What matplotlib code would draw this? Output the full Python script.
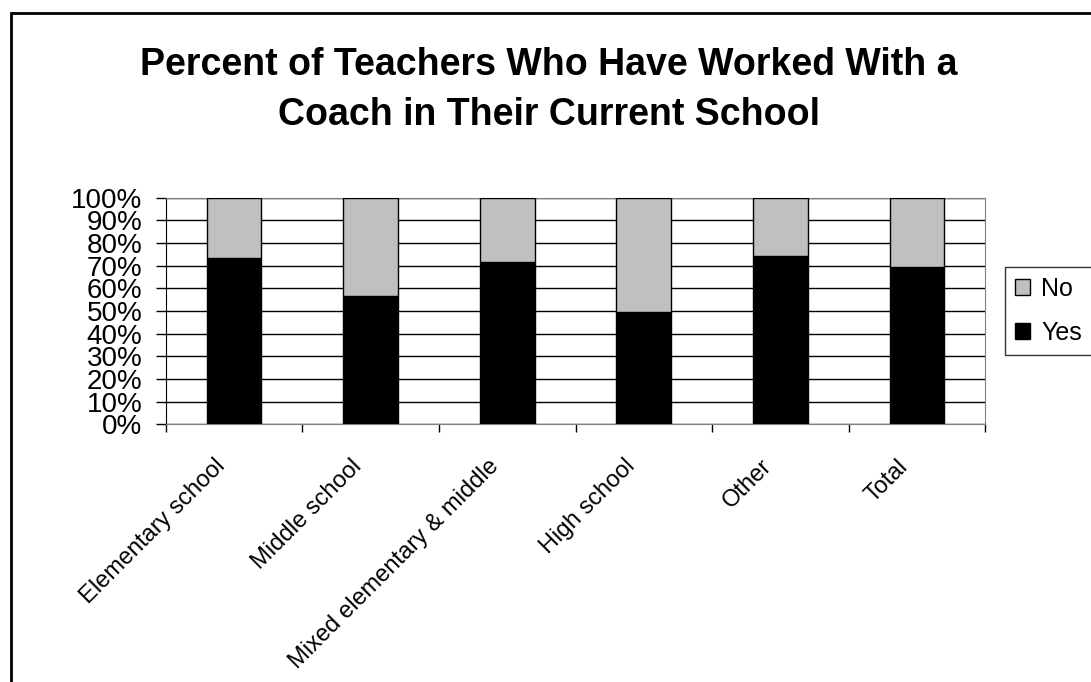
import matplotlib.pyplot as plt
import matplotlib.transforms as mtransforms
import numpy as np
from matplotlib.patches import Rectangle, Patch

plt.rcParams['font.family'] = ['Liberation Sans', 'DejaVu Sans']

# share of teachers who have worked with a coach, by school type
categories = ["Elementary school", "Middle school", "Mixed elementary & middle",
              "High school", "Other", "Total"]
yes_pct = [73.3, 56.6, 71.8, 49.4, 74.3, 69.6]
no_pct = [100 - v for v in yes_pct]

title = "Percent of Teachers Who Have Worked With a\nCoach in Their Current School"

fig = plt.figure(figsize=(10.91, 6.82), dpi=100)
ax = fig.add_axes([0.152, 0.378, 0.751, 0.332])

x = np.arange(len(categories))
ax.bar(x, yes_pct, width=0.4, color='black', edgecolor='black', linewidth=1, zorder=3)
ax.bar(x, no_pct, bottom=yes_pct, width=0.4, color='#c0c0c0', edgecolor='black',
       linewidth=1, zorder=3)

ax.set_xlim(-0.5, len(categories) - 0.5)
ax.set_ylim(0, 100)
ax.set_yticks(np.arange(0, 101, 10))
ax.set_yticklabels([f"{v}%" for v in range(0, 101, 10)], fontsize=20)
ax.yaxis.grid(True, color='black', linewidth=1, zorder=0)
ax.tick_params(axis='y', length=7, width=1, direction='out', pad=10)

# category labels sit between boundary ticks
ax.set_xticks(np.arange(-0.5, len(categories), 1.0))
ax.set_xticklabels([])
ax.set_xticks(x, minor=True)
ax.set_xticklabels(categories, minor=True, rotation=45, ha='right',
                   va='center', rotation_mode='anchor', fontsize=17)
ax.tick_params(axis='x', which='major', length=6, width=1, direction='out')
ax.tick_params(axis='x', which='minor', length=0, pad=28)
shift = mtransforms.ScaledTranslation(-0.12, 0, fig.dpi_scale_trans)
for lbl in ax.get_xticklabels(minor=True):
    lbl.set_transform(lbl.get_transform() + shift)

ax.spines['left'].set_color('black')
for side in ['top', 'right', 'bottom']:
    ax.spines[side].set_color('#808080')

handles = [Patch(facecolor='#c0c0c0', edgecolor='black', label='No'),
           Patch(facecolor='black', edgecolor='black', label='Yes')]
leg = fig.legend(handles=handles, loc='upper left',
                 bbox_to_anchor=(1005 / 1091, 1 - 267 / 682),
                 fontsize=18, frameon=True, fancybox=False, handlelength=0.6,
                 handleheight=0.6, handletextpad=0.45, borderpad=0.4,
                 labelspacing=0.8, borderaxespad=0)
leg.get_frame().set_edgecolor('black')
leg.get_frame().set_linewidth(1)

fig.text(0.503, 1 - 47 / 682, title, ha='center', va='top', fontsize=27,
         fontweight='bold', linespacing=1.5)

# chart frame
fig.add_artist(Rectangle((11 / 1091, -0.1), 1.1, 0.1 + 1 - 13 / 682,
                         transform=fig.transFigure, fill=False,
                         edgecolor='black', linewidth=2))

fig.savefig("out.png", dpi=100)
